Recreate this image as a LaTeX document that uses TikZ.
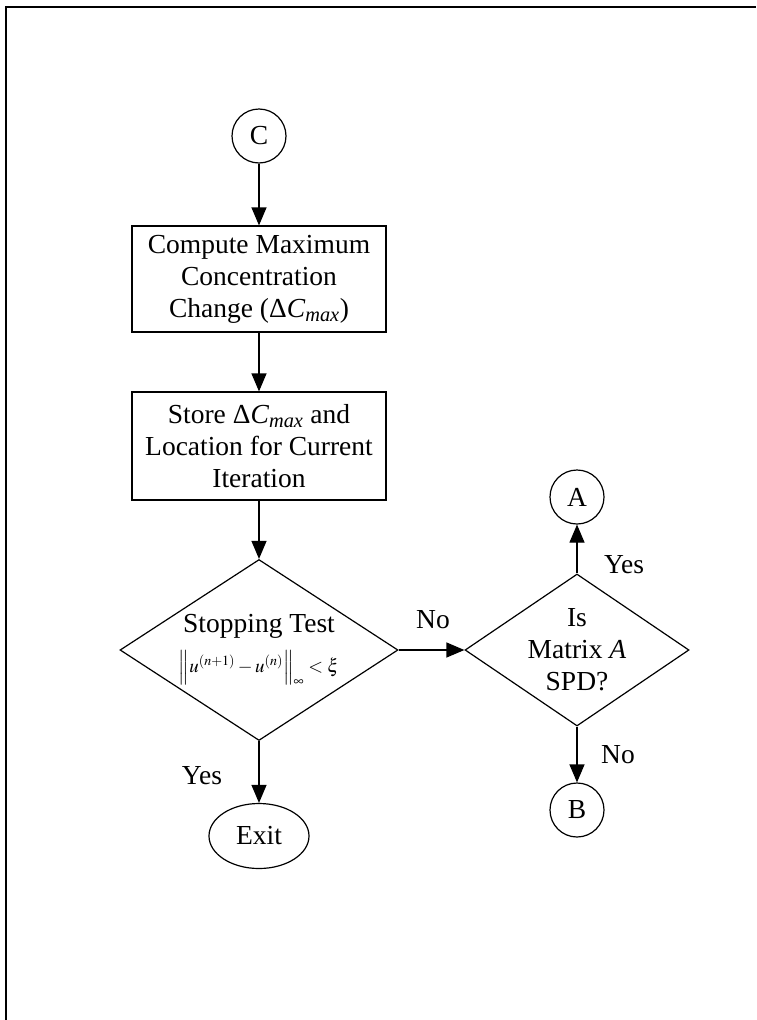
\documentclass[tikz,border=0pt]{standalone}
\usepackage{mathptmx}
\usepackage{fontspec}
\setmainfont{Liberation Serif}
\usetikzlibrary{shapes.geometric,arrows.meta}
\tikzset{
  every node/.style={font=\fontsize{27.5}{32}\selectfont},
  conn/.style={circle,draw,line width=1.2pt,minimum size=54pt,inner sep=0pt},
  procbox/.style={rectangle,draw,line width=1.2pt,minimum width=254pt,align=center,inner sep=0pt},
  decide/.style={diamond,draw,line width=1.2pt,inner sep=0pt,align=center},
  term/.style={ellipse,draw,line width=1.2pt,minimum width=100pt,minimum height=65pt,inner sep=0pt},
  flow/.style={line width=1.2pt,-{Triangle[length=18pt,width=15pt]}},
  lbl/.style={inner sep=0pt}
}
\begin{document}
\begin{tikzpicture}[x=1pt,y=-1pt]
\useasboundingbox (0,0) rectangle (756,1020);
\draw[line width=2.2pt] (6,1020) -- (6,7) -- (756,7);

\node[conn] (C) at (259,136) {C};
\node[procbox,minimum height=106pt] (b1) at (259,279)
  {Compute Maximum\\ Concentration\\ Change (Δ\textit{C}\textsubscript{\textit{max}})};
\node[procbox,minimum height=108pt] (b2) at (259,446)
  {Store Δ\textit{C}\textsubscript{\textit{max}} and\\ Location for Current\\ Iteration};
\node[decide,aspect=1.54,inner sep=-6pt,minimum width=278pt,minimum height=181pt] (d1) at (259,650)
  {Stopping Test\\[8pt] {\fontsize{19}{24}\selectfont$\left\| u^{(n+1)} - u^{(n)} \right\|_{\infty} < \xi$}};
\node[term] (exit) at (259,836) {Exit};
\node[decide,aspect=1.47,inner sep=-8pt,minimum width=224pt,minimum height=152pt] (d2) at (577,650)
  {Is\\ Matrix \textit{A}\\ SPD?};
\node[conn] (A) at (577,497) {A};
\node[conn] (B) at (577,810) {B};

\draw[flow] (C) -- (b1);
\draw[flow] (b1) -- (b2);
\draw[flow] (b2) -- (d1.north);
\draw[flow] (d1.south) -- (exit);
\draw[flow] (d1.east) -- (d2.west);
\draw[flow] (d2.north) -- (A);
\draw[flow] (d2.south) -- (B);

\node[lbl] (yes1) at (202,776) {Yes};
\node[lbl] (no1) at (433,620) {No};
\node[lbl] (yes2) at (624,565) {Yes};
\node[lbl] (no2) at (618,755) {No};
\end{tikzpicture}
\end{document}
